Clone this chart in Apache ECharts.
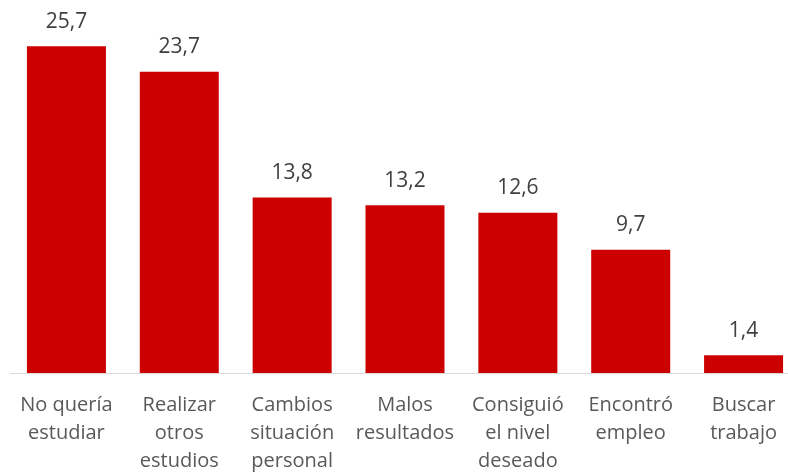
<!DOCTYPE html>
<html>
<head>
<meta charset="utf-8">
<script src="https://cdn.jsdelivr.net/npm/echarts@6/dist/echarts.min.js"></script>
<style>
  html, body { margin: 0; padding: 0; background: #fff; overflow: hidden; }
  #chart { width: 800px; height: 475px; }
</style>
</head>
<body>
<div id="chart"></div>
<script>
// categorías y valores (%)
var categories = [
  'No quería\nestudiar',
  'Realizar\notros\nestudios',
  'Cambios\nsituación\npersonal',
  'Malos\nresultados',
  'Consiguió\nel nivel\ndeseado',
  'Encontró\nempleo',
  'Buscar\ntrabajo'
];
var values = [25.7, 23.7, 13.8, 13.2, 12.6, 9.7, 1.4];

var chart = echarts.init(document.getElementById('chart'));
chart.setOption({
  animation: false,
  textStyle: { fontFamily: 'Open Sans' },
  grid: { left: 10, right: 0, top: 17, bottom: 102 },
  xAxis: {
    type: 'category',
    data: categories,
    axisLine: { lineStyle: { color: '#d9d9d9', width: 1 } },
    axisTick: { show: false },
    axisLabel: {
      color: '#595959',
      fontSize: 20,
      lineHeight: 28,
      margin: 18,
      interval: 0
    }
  },
  yAxis: {
    type: 'value',
    min: 0,
    max: 28,
    show: false,
    splitLine: { show: false }
  },
  series: [{
    type: 'bar',
    data: values,
    barWidth: 79,
    itemStyle: { color: '#cc0000' },
    label: {
      show: true,
      position: 'top',
      distance: 14,
      color: '#404040',
      fontSize: 21,
      formatter: function (p) { return String(p.value).replace('.', ','); }
    }
  }]
});
</script>
</body>
</html>
